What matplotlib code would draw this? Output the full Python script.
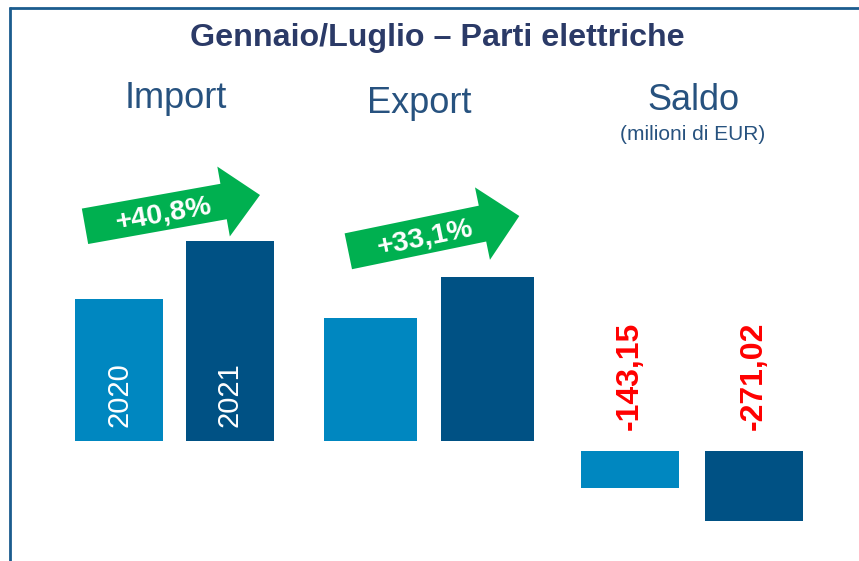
import matplotlib.pyplot as plt
from matplotlib.patches import FancyArrow

# data (milioni di EUR)
years = ["2020", "2021"]
import_vals = [1045, 1472]
export_vals = [902, 1210]
saldo_vals = [-143.15, -271.02]
growth_labels = ["+40,8%", "+33,1%"]
headers = ["Import", "Export", "Saldo"]

COL_2020 = "#0087c0"
COL_2021 = "#005184"
HEAD_COL = "#27527f"
TITLE_COL = "#2b3a67"
FRAME_COL = "#1b5c8e"
GREEN = "#00b050"
FONT = ["Liberation Sans", "DejaVu Sans"]

W, H = 859, 561
fig = plt.figure(figsize=(W / 100, H / 100), dpi=100)


def fy(px):
    # pixel row from top -> figure fraction
    return 1 - px / H


offsets = [0.218, 0.230, 0.244]
widths = [0.346, 0.365, 0.385]

ax = fig.add_axes([0, fy(441), 1, (441 - 200) / H])
ax.set_xlim(-0.6857, 2.6896)
ax.set_ylim(0, 1773)
ax.axis("off")

ax_s = fig.add_axes([0, fy(540), 1, (540 - 451) / H])
ax_s.set_xlim(-0.719, 2.656)
ax_s.set_ylim(-345, 0)
ax_s.axis("off")

for g, vals in enumerate([import_vals, export_vals]):
    xs = [g - offsets[g], g + offsets[g]]
    ax.bar(xs, vals, width=widths[g], color=[COL_2020, COL_2021])
    if g == 0:
        for x, yr in zip(xs, years):
            ax.annotate(yr, (x, 0), xytext=(0, 10), textcoords="offset points",
                        rotation=90, ha="center", va="bottom", color="white",
                        fontsize=21, family=FONT)

xs = [2 - offsets[2], 2 + offsets[2]]
ax_s.bar(xs, saldo_vals, width=widths[2], color=[COL_2020, COL_2021])
for x, v in zip(xs, saldo_vals):
    ax_s.annotate(f"{v:.2f}".replace(".", ","), (x, 0), xytext=(0, 15),
                  textcoords="offset points", rotation=90, ha="center", va="bottom",
                  color="#ff0000", fontsize=23, fontweight="bold", family=FONT)

# overlay in pixel units for frame, arrows and headings
ov = fig.add_axes([0, 0, 1, 1])
ov.set_xlim(0, W)
ov.set_ylim(H, 0)
ov.axis("off")
ov.patch.set_alpha(0)

ov.plot([9, W], [8, 8], color=FRAME_COL, lw=2, solid_capstyle="butt")
ov.plot([10, 10], [7, H], color=FRAME_COL, lw=2, solid_capstyle="butt")

ov.text(437, 38, "Gennaio/Luglio \u2013 Parti elettriche", ha="center", va="center",
        fontsize=23.2, fontweight="bold", color=TITLE_COL, family=FONT)

for (hx, hy), txt in zip([(176, 98), (419, 103), (693, 100)], headers):
    ov.text(hx, hy, txt, ha="center", va="center", fontsize=26, color=HEAD_COL, family=FONT)
ov.text(693, 134, "(milioni di EUR)", ha="center", va="center", fontsize=15,
        color=HEAD_COL, family=FONT)

arrows = [((85, 226.3), (260, 195), 36, 71, 37),
          ((348.3, 251.3), (519.3, 216), 36.6, 74, 37.6)]
for (tx, ty), (hx, hy), bw, hw, hl in arrows:
    ov.add_patch(FancyArrow(tx, ty, hx - tx, hy - ty, width=bw, head_width=hw,
                            head_length=hl, length_includes_head=True,
                            color=GREEN, lw=0))
for (lx, ly, rot), lab in zip([(164, 214, 10), (425, 238, 11.7)], growth_labels):
    ov.text(lx, ly, lab, ha="center", va="center", rotation=rot, fontsize=20.5,
            fontweight="bold", color="white", family=FONT)

fig.savefig("out.png", dpi=100)
